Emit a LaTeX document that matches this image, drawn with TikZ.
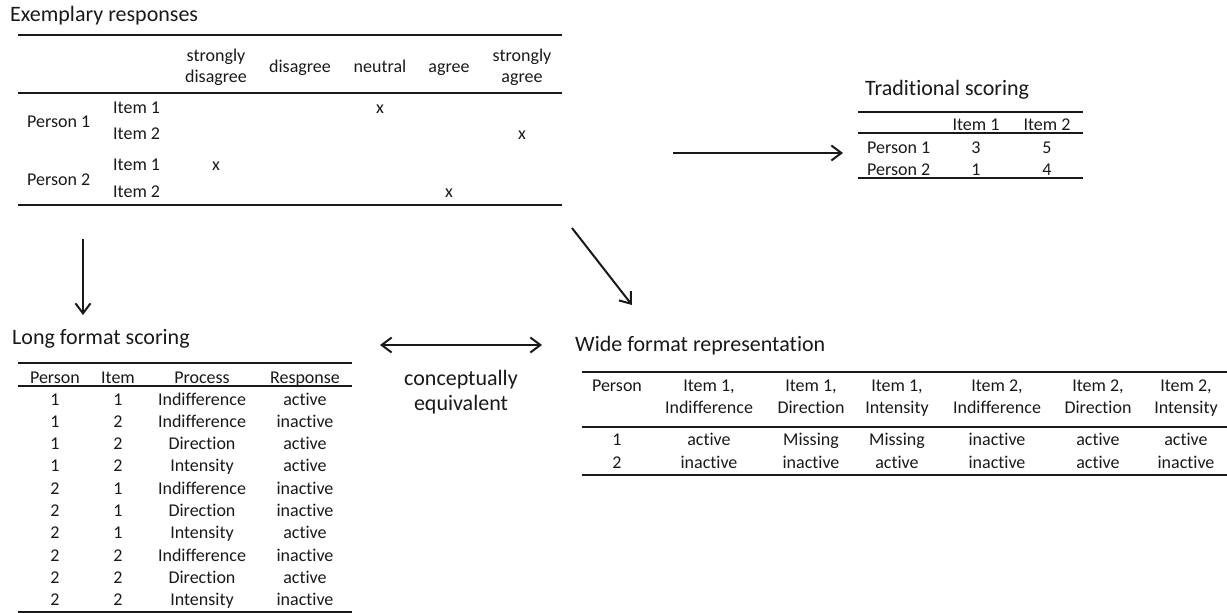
\documentclass[tikz,border=0pt]{standalone}
\usepackage{fontspec}
\setmainfont{Carlito}[Ligatures=NoCommon]
\usetikzlibrary{arrows.meta, positioning}
\definecolor{mytext}{RGB}{25,25,25}
\tikzset{
  cell/.style={inner sep=0pt, anchor=base, text=mytext,
    font=\fontsize{18}{21}\selectfont},
  lcell/.style={cell, anchor=base west},
  tabtitle/.style={inner sep=0pt, anchor=base west, text=mytext,
    font=\fontsize{22}{26}\selectfont},
  rule/.style={line width=2.1pt, color=mytext},
  arrow/.style={-{Straight Barb[length=10pt, width=15pt]}, line width=2pt, color=mytext},
  dblarrow/.style={{Straight Barb[length=10pt, width=15pt]}-{Straight Barb[length=10pt, width=15pt]},
    line width=2pt, color=mytext}
}

\begin{document}
\begin{tikzpicture}[x=1pt, y=-1pt]
  \useasboundingbox (0,0) rectangle (1227,613);

  % Exemplary responses
  \node[tabtitle] (extitle) at (10,21) {Exemplary responses};
  \draw[rule] (18,35) -- (562,35);
  \draw[rule] (18,93) -- (562,93);
  \draw[rule] (18,205) -- (562,205);
  \node[cell] (exsd1) at (216,61) {strongly};
  \node[cell] (exsd2) at (216,82) {disagree};
  \node[cell] (exd) at (300,72) {disagree};
  \node[cell] (exn) at (380,72) {neutral};
  \node[cell] (exa) at (449,72) {agree};
  \node[cell] (exsa1) at (522,61) {strongly};
  \node[cell] (exsa2) at (522,82) {agree};
  \node[lcell] (exp1) at (27,127) {Person 1};
  \node[lcell] (exp2) at (27,185) {Person 2};
  \node[lcell] (exp1i1) at (113,113) {Item 1};
  \node[lcell] (exp1i2) at (113,139) {Item 2};
  \node[lcell] (exp2i1) at (113,170) {Item 1};
  \node[lcell] (exp2i2) at (113,197) {Item 2};
  \node[cell] (exx1) at (380,113) {x};
  \node[cell] (exx2) at (522,139) {x};
  \node[cell] (exx3) at (216,170) {x};
  \node[cell] (exx4) at (449,197) {x};

  % Traditional scoring
  \node[tabtitle] (trtitle) at (865,95) {Traditional scoring};
  \draw[rule] (858,112) -- (1083,112);
  \draw[rule] (858,133) -- (1083,133);
  \draw[rule] (858,178) -- (1083,178);
  \node[cell] (tri1) at (976,130) {Item 1};
  \node[cell] (tri2) at (1047,130) {Item 2};
  \node[lcell] (trp1) at (867,153) {Person 1};
  \node[lcell] (trp2) at (867,175) {Person 2};
  \node[cell] (trv11) at (976,153) {3};
  \node[cell] (trv12) at (1047,153) {5};
  \node[cell] (trv21) at (976,175) {1};
  \node[cell] (trv22) at (1047,175) {4};

  % Long format scoring
  \node[tabtitle] (lgtitle) at (12,344) {Long format scoring};
  \draw[rule] (18,363) -- (352,363);
  \draw[rule] (18,386) -- (352,386);
  \draw[rule] (18,612) -- (352,612);
  \node[cell] (lgh1) at (55,383) {Person};
  \node[cell] (lgh2) at (118,383) {Item};
  \node[cell] (lgh3) at (202,383) {Process};
  \node[cell] (lgh4) at (305,383) {Response};
  \foreach \p/\it/\proc/\resp [count=\r from 0] in {
      1/1/Indifference/active, 1/2/Indifference/inactive,
      1/2/Direction/active, 1/2/Intensity/active,
      2/1/Indifference/inactive, 2/1/Direction/inactive,
      2/1/Intensity/active, 2/2/Indifference/inactive,
      2/2/Direction/active, 2/2/Intensity/inactive} {
    \node[cell] (lgp\r) at (55,{405+22.33*\r}) {\p};
    \node[cell] (lgi\r) at (118,{405+22.33*\r}) {\it};
    \node[cell] (lgc\r) at (202,{405+22.33*\r}) {\proc};
    \node[cell] (lgr\r) at (305,{405+22.33*\r}) {\resp};
  }

  % conceptually equivalent
  \node[cell, font=\fontsize{22}{26}\selectfont] (eq1) at (461,385) {conceptually};
  \node[cell, font=\fontsize{22}{26}\selectfont] (eq2) at (461,410) {equivalent};

  % Wide format representation
  \node[tabtitle] (wdtitle) at (575,351) {Wide format representation};
  \draw[rule] (582,372) -- (1227,372);
  \draw[rule] (582,427) -- (1227,427);
  \draw[rule] (582,475) -- (1227,475);
  \node[cell] (wdh0) at (617,391) {Person};
  \node[cell] (wdv10) at (617,445) {1};
  \node[cell] (wdv20) at (617,468) {2};
  \foreach \x/\itm/\proc/\first/\second [count=\c] in {
      709/{Item 1,}/Indifference/active/inactive,
      811/{Item 1,}/Direction/Missing/inactive,
      897/{Item 1,}/Intensity/Missing/active,
      997/{Item 2,}/Indifference/inactive/inactive,
      1098/{Item 2,}/Direction/active/active,
      1186/{Item 2,}/Intensity/active/inactive} {
    \node[cell] (wdh\c) at (\x,391) {\itm};
    \node[cell] (wdp\c) at (\x,413) {\proc};
    \node[cell] (wdv1\c) at (\x,445) {\first};
    \node[cell] (wdv2\c) at (\x,468) {\second};
  }

  % Arrows
  \coordinate (exeast) at (673,153);
  \coordinate (trwest) at (843,153);
  \coordinate (exsouth) at (83,239);
  \coordinate (lgnorth) at (83,315);
  \coordinate (exse) at (572,228);
  \coordinate (wdnorth) at (632,305);
  \coordinate (lgeast) at (380,345);
  \coordinate (wdwest) at (542,345);
  \draw[arrow] (exeast) -- (trwest);
  \draw[arrow] (exsouth) -- (lgnorth);
  \draw[arrow] (exse) -- (wdnorth);
  \draw[dblarrow] (lgeast) -- (wdwest);
\end{tikzpicture}
\end{document}
